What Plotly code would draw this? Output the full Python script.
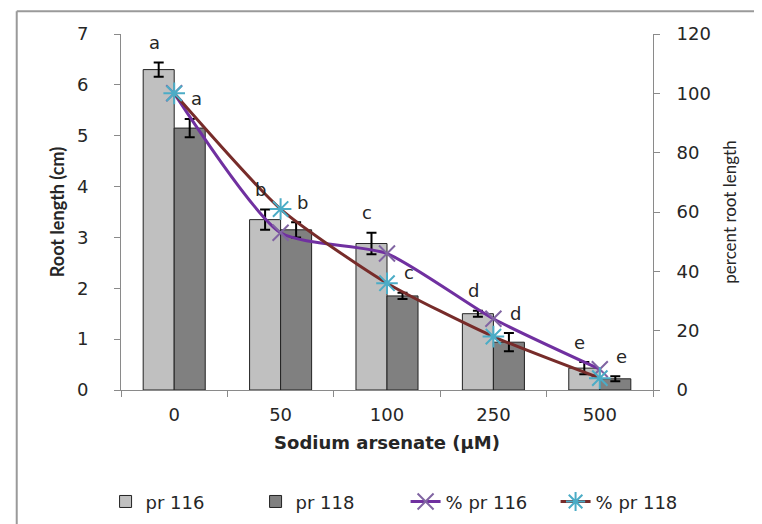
import plotly.graph_objects as go

categories = ["0", "50", "100", "250", "500"]
pr116 = [6.30, 3.35, 2.88, 1.50, 0.43]
pr118 = [5.15, 3.15, 1.85, 0.94, 0.22]
err116 = [0.14, 0.20, 0.21, 0.06, 0.12]
err118 = [0.18, 0.15, 0.06, 0.18, 0.05]
pct116 = [100, 53, 46, 24, 7]
pct118 = [100, 61, 36, 18, 4]
letters116 = ["a", "b", "c", "d", "e"]
letters118 = ["a", "b", "c", "d", "e"]

WIDE = "'DejaVu Sans', sans-serif"
NARROW = "Lato, 'Open Sans', sans-serif"
TXT = "#262626"

fig = go.Figure()
fig.add_trace(go.Bar(
    x=categories, y=pr116, name="pr 116",
    marker=dict(color="#c0c0c0", line=dict(color="#222222", width=1)),
    error_y=dict(type="data", array=err116, color="black", thickness=2, width=5),
))
fig.add_trace(go.Bar(
    x=categories, y=pr118, name="pr 118",
    marker=dict(color="#808080", line=dict(color="#222222", width=1)),
    error_y=dict(type="data", array=err118, color="black", thickness=2, width=5),
))
fig.add_trace(go.Scatter(
    x=categories, y=pct116, name="% pr 116", yaxis="y2",
    mode="lines+markers", line=dict(color="#7030a0", width=3, shape="spline", smoothing=0.6),
    marker=dict(symbol="x-thin", size=16, color="#8064a2", line=dict(color="#8064a2", width=2)),
))
fig.add_trace(go.Scatter(
    x=categories, y=pct118, name="% pr 118", yaxis="y2",
    mode="lines+markers", line=dict(color="#772c2a", width=3, shape="spline", smoothing=0.6),
    marker=dict(symbol="asterisk", size=18, color="#4bacc6", line=dict(color="#4bacc6", width=2)),
))

annotations = []
for i, (v, e, t) in enumerate(zip(pr116, err116, letters116)):
    annotations.append(dict(x=i, y=v + e, xref="x", yref="y", text=t, showarrow=False,
                            xshift=-20, yshift=20, yanchor="middle",
                            font=dict(family=WIDE, size=18, color=TXT)))
for i, (v, e, t) in enumerate(zip(pr118, err118, letters118)):
    annotations.append(dict(x=i, y=v + e, xref="x", yref="y", text=t, showarrow=False,
                            xshift=22, yshift=20, yanchor="middle",
                            font=dict(family=WIDE, size=18, color=TXT)))

axis_color = "#8a8a8a"
fig.update_layout(
    width=762, height=524,
    margin=dict(l=113, r=117, t=26, b=140),
    paper_bgcolor="white", plot_bgcolor="white",
    font=dict(family=WIDE, size=18, color=TXT),
    barmode="group", bargap=0.417, bargroupgap=0,
    showlegend=True,
    legend=dict(orientation="h", x=-0.029, xanchor="left", y=-0.314, yanchor="middle",
                entrywidth=105, entrywidthmode="pixels",
                font=dict(family=WIDE, size=18, color=TXT), traceorder="normal"),
    xaxis=dict(type="category", range=[-0.5, 4.5], showline=True, linecolor=axis_color, linewidth=1,
               ticks="outside", tickson="boundaries", ticklen=6, tickcolor=axis_color,
               showgrid=False, zeroline=False, ticklabelstandoff=8,
               tickfont=dict(family=WIDE, size=18, color=TXT),
               title=dict(text="<b>Sodium arsenate (µM)</b>", standoff=12,
                          font=dict(family=WIDE, size=18, color=TXT))),
    yaxis=dict(range=[0, 7], dtick=1, showline=True, linecolor=axis_color, linewidth=1,
               ticks="outside", ticklen=6, tickcolor=axis_color, showgrid=False, zeroline=False,
               ticklabelstandoff=22,
               tickfont=dict(family=WIDE, size=18, color=TXT),
               title=dict(text="<b>Root length (cm)</b>", standoff=7,
                          font=dict(family=NARROW, size=18, color=TXT))),
    yaxis2=dict(range=[0, 120], dtick=20, overlaying="y", side="right", showline=True,
                linecolor=axis_color, linewidth=1, ticks="outside", ticklen=6,
                tickcolor=axis_color, showgrid=False, zeroline=False,
                ticklabelstandoff=13,
                tickfont=dict(family=WIDE, size=18, color=TXT),
                title=dict(text="percent root length", standoff=14,
                           font=dict(family=NARROW, size=17, color=TXT))),
    annotations=annotations,
    shapes=[
        dict(type="line", xref="paper", yref="paper", x0=-0.196, x1=-0.196, y0=-0.5, y1=1.064,
             line=dict(color="#9a9a9a", width=2)),
        dict(type="line", xref="paper", yref="paper", x0=-0.196, x1=1.3, y0=1.064, y1=1.064,
             line=dict(color="#9a9a9a", width=2)),
    ],
)

fig.write_html("out.html")
